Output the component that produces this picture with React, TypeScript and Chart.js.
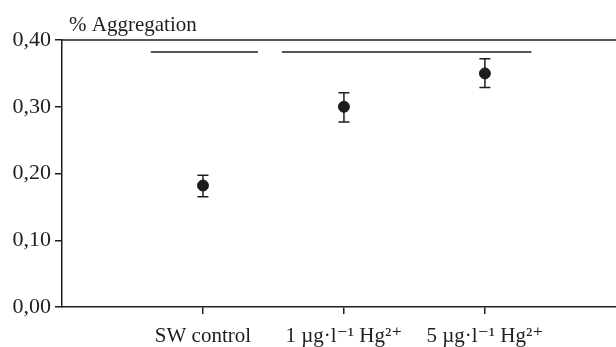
import React, { useEffect, useRef } from "react";
import { Chart, registerables } from "chart.js";

Chart.register(...registerables);

const categories = ["SW control", "1 µg·l⁻¹ Hg²⁺", "5 µg·l⁻¹ Hg²⁺"];
const categoryPos = [1, 2, 3];
const means = [0.182, 0.3, 0.35];
const errUpper = [0.1975, 0.321, 0.372];
const errLower = [0.165, 0.277, 0.329];
const sigStart = [0.63, 1.56];
const sigEnd = [1.39, 3.33];
const sigLevel = [0.382, 0.382];
const yTicks = [0, 0.1, 0.2, 0.3, 0.4];
const yTitle = "% Aggregation";

const FONT = "'Liberation Serif', 'Times New Roman', 'DejaVu Serif', serif";
const INK = "#1e1e1e";

export default function App() {
  const ref = useRef<HTMLCanvasElement>(null);
  useEffect(() => {
    if (!ref.current) return;
    const extras = {
      id: "extras",
      afterDraw(chart: any) {
        const { ctx, chartArea, scales } = chart;
        const xs = scales.x, ys = scales.y;
        ctx.save();
        ctx.strokeStyle = INK;
        ctx.lineWidth = 1.5;
        ctx.beginPath();
        ctx.moveTo(chartArea.left, chartArea.top);
        ctx.lineTo(chartArea.right, chartArea.top);
        ctx.stroke();
        for (let i = 0; i < means.length; i++) {
          const px = xs.getPixelForValue(categoryPos[i]);
          const pt = ys.getPixelForValue(errUpper[i]);
          const pb = ys.getPixelForValue(errLower[i]);
          ctx.beginPath();
          ctx.moveTo(px, pt);
          ctx.lineTo(px, pb);
          ctx.moveTo(px - 5.5, pt);
          ctx.lineTo(px + 5.5, pt);
          ctx.moveTo(px - 5.5, pb);
          ctx.lineTo(px + 5.5, pb);
          ctx.stroke();
        }
        ctx.fillStyle = INK;
        ctx.font = `21px ${FONT}`;
        ctx.textBaseline = "alphabetic";
        ctx.textAlign = "left";
        ctx.fillText(yTitle, 69, 31);
        ctx.restore();
      },
    };
    const sigDatasets = sigStart.map((s, i) => ({
      type: "line" as const,
      data: [
        { x: s, y: sigLevel[i] },
        { x: sigEnd[i], y: sigLevel[i] },
      ],
      borderColor: INK,
      borderWidth: 1.5,
      pointRadius: 0,
      fill: false,
    }));
    const chart = new Chart(ref.current, {
      type: "scatter",
      data: {
        datasets: [
          {
            data: categoryPos.map((x, i) => ({ x, y: means[i] })),
            backgroundColor: INK,
            borderColor: INK,
            pointRadius: 5.5,
            pointHoverRadius: 5.5,
          },
          ...sigDatasets,
        ] as any,
      },
      plugins: [extras],
      options: {
        animation: false,
        responsive: false,
        events: [],
        layout: { autoPadding: false, padding: { top: 40, right: 0, left: 0, bottom: 0 } },
        plugins: { legend: { display: false }, tooltip: { enabled: false }, title: { display: false } },
        scales: {
          x: {
            type: "linear",
            min: 0,
            max: 3.93,
            afterBuildTicks: (s: any) => {
              s.ticks = categoryPos.map((v) => ({ value: v }));
            },
            afterFit: (s: any) => {
              s.height = 40;
              s.paddingLeft = 0;
              s.paddingRight = 0;
            },
            ticks: {
              autoSkip: false,
              maxRotation: 0,
              color: INK,
              padding: 10,
              font: { family: FONT, size: 21 },
              callback: (v: any) => {
                const i = categoryPos.indexOf(Number(v));
                return i >= 0 ? categories[i] : "";
              },
            },
            grid: { drawOnChartArea: false, tickLength: 7, color: INK, lineWidth: 1.5 },
            border: { color: INK, width: 1.5 },
          },
          y: {
            min: 0,
            max: 0.4,
            afterBuildTicks: (s: any) => {
              s.ticks = yTicks.map((v) => ({ value: v }));
            },
            afterFit: (s: any) => {
              s.width = 62;
              s.paddingTop = 0;
              s.paddingBottom = 0;
            },
            ticks: {
              color: INK,
              padding: 4,
              font: { family: FONT, size: 22 },
              callback: (v: any) => Number(v).toFixed(2).replace(".", ","),
            },
            grid: { drawOnChartArea: false, tickLength: 7, color: INK, lineWidth: 1.5 },
            border: { color: INK, width: 1.5 },
          },
        },
      },
    });
    return () => chart.destroy();
  }, []);
  return (
    <div style={{ position: "absolute", left: 0, top: 0, width: 616, height: 347, background: "#fff" }}>
      <canvas ref={ref} width={616} height={347} />
    </div>
  );
}
